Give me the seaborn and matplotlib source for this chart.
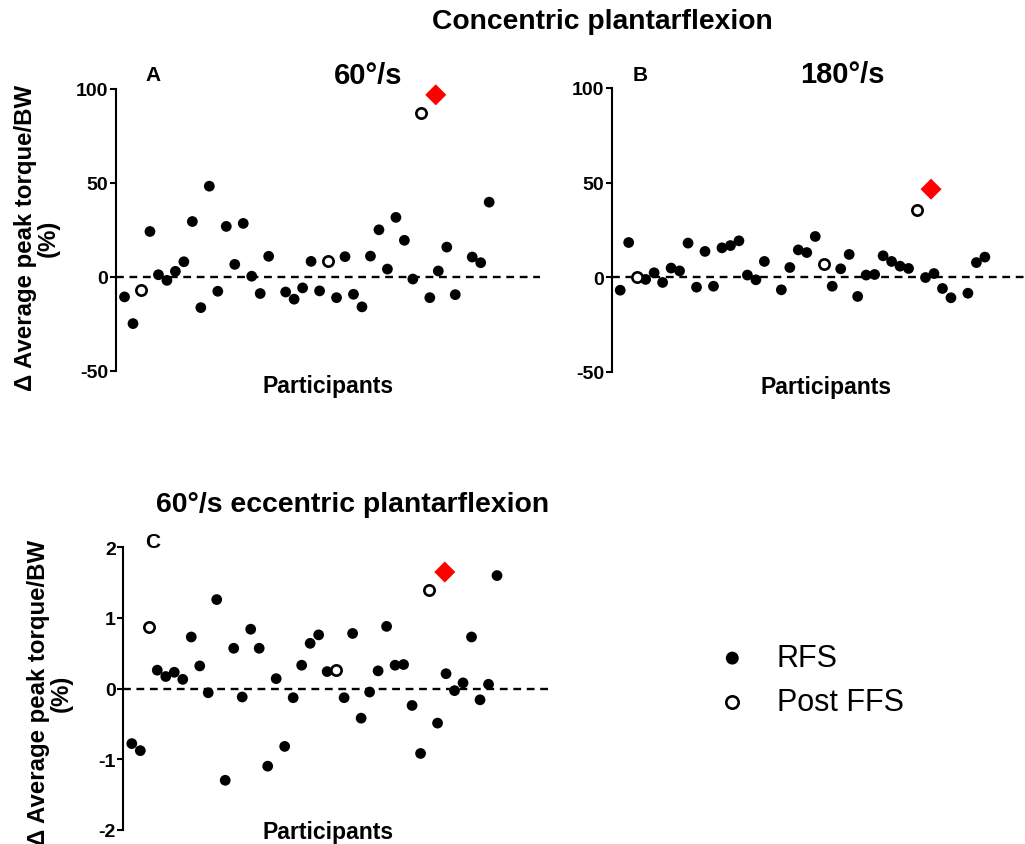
import numpy as np
import pandas as pd
import matplotlib
matplotlib.use('Agg')
import matplotlib.pyplot as plt
import seaborn as sns

sns.set_style('white')
plt.rcParams['font.family'] = ['Liberation Sans', 'DejaVu Sans']
plt.rcParams['axes.unicode_minus'] = False
plt.rcParams['text.color'] = 'black'
plt.rcParams['axes.labelcolor'] = 'black'

# Teilnehmer 1..44, NaN = kein Messwert
participants = list(range(1, 45))
post_ffs = [3, 25, 36]

values_a = [-10.6, -24.8, -7.1, 24.2, 1.2, -1.8, 3.0, 8.1, 29.5, -16.3,
            48.3, -7.6, 26.9, 6.7, 28.5, 0.4, -8.8, 11.0, np.nan, -8.0,
            -11.8, -5.8, 8.3, -7.4, 8.5, -11.0, 10.8, -9.2, -15.9, 11.1,
            25.1, 4.2, 31.7, 19.5, -1.1, 87.2, -11.0, 3.2, 15.9, -9.4,
            np.nan, 10.6, 7.6, 39.8]
values_b = [-6.9, 18.3, 0.0, -1.2, 2.3, -2.8, 4.8, 3.3, 18.0, -5.3,
            13.6, -4.8, 15.5, 16.7, 19.2, 1.1, -1.4, 8.3, np.nan, -6.7,
            5.1, 14.4, 13.0, 21.5, 6.9, -4.8, 4.4, 12.0, -10.2, 1.1,
            1.4, 11.3, 8.3, 5.8, 4.6, 35.7, -0.2, 1.9, -6.0, -10.9,
            np.nan, -8.5, 7.7, 10.6]
values_c = [-0.78, -0.88, 0.87, 0.26, 0.17, 0.23, 0.13, 0.73, 0.32, -0.06,
            1.26, -1.30, 0.57, -0.12, 0.84, 0.57, -1.10, 0.14, -0.82, -0.13,
            0.33, 0.64, 0.76, 0.24, 0.26, -0.13, 0.78, -0.42, -0.05, 0.25,
            0.88, 0.33, 0.34, -0.24, -0.92, 1.39, -0.49, 0.21, -0.03, 0.08,
            0.73, -0.16, 0.06, 1.60]

# rote Raute je Panel (A, B, C)
diamond_x = [37.7, 37.65, 37.85]
diamond_y = [96.9, 46.5, 1.65]

ylabel = 'Δ Average peak torque/BW\n(%)'


def drawPanel(ax, values, dx, dy, ylim, yticks):
    df = pd.DataFrame({'Participant': participants, 'Wert': values})
    df['Gruppe'] = np.where(df['Participant'].isin(post_ffs), 'Post FFS', 'RFS')
    df = df.dropna()

    ax.axhline(0, color='black', linestyle=(0, (3.3, 2.4)), linewidth=1.7, zorder=1)
    sns.scatterplot(data=df[df['Gruppe'] == 'RFS'], x='Participant', y='Wert',
                    color='black', edgecolor='none', s=60, ax=ax, legend=False,
                    label='RFS', clip_on=False, zorder=3)
    sns.scatterplot(data=df[df['Gruppe'] == 'Post FFS'], x='Participant', y='Wert',
                    facecolor='white', edgecolor='black', linewidth=1.9, s=55, ax=ax,
                    legend=False, label='Post FFS', clip_on=False, zorder=3)
    ax.scatter([dx], [dy], marker='D', s=115, color='red', edgecolor='none',
               clip_on=False, zorder=4)

    ax.set_xlim(0, 50)
    ax.set_ylim(*ylim)
    ax.set_yticks(yticks)
    ax.set_xticks([])
    ax.set_xlabel('')
    ax.set_ylabel('')
    for s in ['top', 'right', 'bottom']:
        ax.spines[s].set_visible(False)
    ax.spines['left'].set_linewidth(1.5)
    ax.spines['left'].set_color('black')
    ax.tick_params(axis='y', direction='out', length=4.5, width=1.5, left=True,
                   pad=1, labelsize=14, colors='black')
    for t in ax.get_yticklabels():
        t.set_fontweight('bold')
    ax.text(0.5, -0.005, 'Participants', transform=ax.transAxes, ha='center',
            va='top', fontsize=16.6, fontweight='bold')


fig = plt.figure(figsize=(10.25, 8.45), dpi=100)
ax_a = fig.add_axes([0.1132, 0.5598, 0.4137, 0.3337])
ax_b = fig.add_axes([0.5968, 0.5589, 0.4137, 0.3358])
ax_c = fig.add_axes([0.1203, 0.0169, 0.4143, 0.3342])

drawPanel(ax_a, values_a, diamond_x[0], diamond_y[0], (-50, 100), [-50, 0, 50, 100])
drawPanel(ax_b, values_b, diamond_x[1], diamond_y[1], (-50, 100), [-50, 0, 50, 100])
drawPanel(ax_c, values_c, diamond_x[2], diamond_y[2], (-2, 2), [-2, -1, 0, 1, 2])

# Participants-Beschriftung in A/B etwas tiefer
ax_a.texts[-1].set_position((0.5, -0.012))
ax_b.texts[-1].set_position((0.505, -0.012))
ax_c.texts[-1].set_position((0.482, 0.035))

# Y-Achsenbeschriftungen
fig.text(37 / 1025, 1 - 238 / 845, ylabel, rotation=90, ha='center', va='center',
         multialignment='center', fontsize=17.3, fontweight='bold', linespacing=1.0)
fig.text(50 / 1025, 1 - 693 / 845, ylabel, rotation=90, ha='center', va='center',
         multialignment='center', fontsize=17.3, fontweight='bold', linespacing=1.0)

# Titel
fig.text(602 / 1025, 1 - 22 / 845, 'Concentric plantarflexion', ha='center', va='center',
         fontsize=20.3, fontweight='bold')
fig.text(353 / 1025, 1 - 505 / 845, '60°/s eccentric plantarflexion', ha='center',
         va='center', fontsize=20.4, fontweight='bold')
ax_a.text(0.594, 1.05, '60°/s', transform=ax_a.transAxes, ha='center', va='center',
          fontsize=21, fontweight='bold')
ax_b.text(0.543, 1.05, '180°/s', transform=ax_b.transAxes, ha='center', va='center',
          fontsize=21, fontweight='bold')
ax_a.text(0.087, 1.053, 'A', transform=ax_a.transAxes, ha='center', va='center',
          fontsize=15, fontweight='bold')
ax_b.text(0.067, 1.049, 'B', transform=ax_b.transAxes, ha='center', va='center',
          fontsize=15, fontweight='bold')
ax_c.text(0.07, 1.022, 'C', transform=ax_c.transAxes, ha='center', va='center',
          fontsize=15, fontweight='bold')

# Legende
handles, labels = ax_a.get_legend_handles_labels()
fig.legend(handles, labels, loc='center left', bbox_to_anchor=(717 / 1025, 1 - 681 / 845),
           frameon=False, fontsize=22, markerscale=1.2, handlelength=1.0,
           handletextpad=0.95, labelspacing=0.45, borderpad=0, borderaxespad=0)

fig.savefig('out.png', dpi=100)
